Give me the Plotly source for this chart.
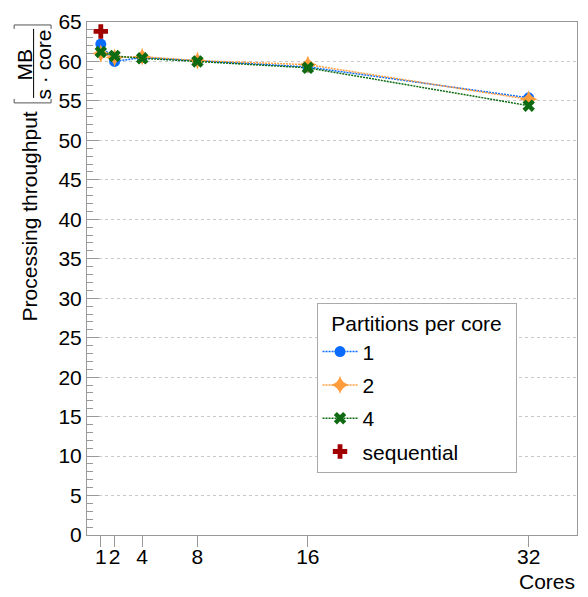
import plotly.graph_objects as go

cores = [1, 2, 4, 8, 16, 32]
tp_1 = [62.2, 60.0, 60.5, 60.1, 59.3, 55.4]
tp_2 = [61.0, 60.5, 60.6, 60.1, 59.6, 55.2]
tp_4 = [61.2, 60.7, 60.4, 60.0, 59.2, 54.4]
seq_cores = [1]
seq_tp = [63.8]
x_ticks = [1, 2, 4, 8, 16, 32]

W, H = 588, 597
L, R, T, B = 87, 578, 15, 535
FONT = "Liberation Sans, Arial, sans-serif"
FS = 21


def px(x):
    return (x - L) / (R - L)


def py(y):
    return (B - y) / (B - T)


fig = go.Figure()
fig.add_trace(go.Scatter(x=cores, y=tp_1, name="1", mode="lines+markers",
                         line=dict(color="#0a6cff", width=1.5, dash="2px,1px"),
                         marker=dict(symbol="circle", size=11, color="#0a6cff"),
                         legendgroup="a"))
fig.add_trace(go.Scatter(x=cores, y=tp_2, name="2", mode="lines+markers",
                         line=dict(color="#ff9d3c", width=1.5, dash="2px,1px"),
                         marker=dict(symbol="star-diamond", size=13, color="#ff9d3c"),
                         legendgroup="b"))
fig.add_trace(go.Scatter(x=cores, y=tp_4, name="4", mode="lines+markers",
                         line=dict(color="#0e6b12", width=1.5, dash="2px,1px"),
                         marker=dict(symbol="x", size=11, color="#0e6b12"),
                         legendgroup="c"))
fig.add_trace(go.Scatter(x=seq_cores, y=seq_tp, name="sequential", mode="markers",
                         marker=dict(symbol="cross", size=12, color="#a00000"),
                         legendgroup="d"))

annotations = [
    dict(text="Processing throughput", x=px(29), y=py(212), xref="paper", yref="paper",
         textangle=-90, showarrow=False, font=dict(size=FS, family=FONT, color="black"),
         xanchor="center", yanchor="middle"),
    dict(text="MB", x=px(24), y=py(58), xref="paper", yref="paper",
         textangle=-90, showarrow=False, font=dict(size=FS, family=FONT, color="black"),
         xanchor="center", yanchor="middle"),
    dict(text="s · core", x=px(43), y=py(58), xref="paper", yref="paper",
         textangle=-90, showarrow=False, font=dict(size=FS, family=FONT, color="black"),
         xanchor="center", yanchor="middle"),
    dict(text="Cores", x=px(578), y=py(582), xref="paper", yref="paper",
         showarrow=False, font=dict(size=FS, family=FONT, color="black"),
         xanchor="right", yanchor="middle"),
]

shapes = [
    dict(type="line", xref="paper", yref="paper", x0=px(33.5), x1=px(33.5),
         y0=py(22), y1=py(92), line=dict(color="black", width=1)),
    dict(type="path", xref="paper", yref="paper",
         path=f"M {px(14)},{py(93)} L {px(14)},{py(97)} L {px(51)},{py(97)} L {px(51)},{py(93)}",
         line=dict(color="#555555", width=1)),
    dict(type="path", xref="paper", yref="paper",
         path=f"M {px(14)},{py(22)} L {px(14)},{py(18)} L {px(51)},{py(18)} L {px(51)},{py(22)}",
         line=dict(color="#555555", width=1)),
]

fig.update_layout(
    width=W, height=H,
    margin=dict(l=L, r=W - R, t=T, b=H - B, pad=0),
    paper_bgcolor="white", plot_bgcolor="white",
    font=dict(family=FONT, size=FS, color="black"),
    annotations=annotations, shapes=shapes,
    showlegend=True,
    legend=dict(
        x=px(317), y=py(300), xanchor="left", yanchor="top",
        bordercolor="#aaaaaa", borderwidth=1, bgcolor="white",
        font=dict(size=FS, family=FONT, color="black"),
        title=dict(text="\u00a0\u00a0Partitions per core\u00a0\u00a0", side="top center",
                   font=dict(size=FS, family=FONT, color="black")),
        itemwidth=35, tracegroupgap=3, traceorder="grouped",
    ),
    xaxis=dict(
        range=[0, 35.5], tickvals=x_ticks, ticktext=[str(v) for v in x_ticks],
        tickangle=0, ticks="outside", ticklen=11, tickcolor="#999999",
        ticklabelstandoff=-8,
        showline=True, linecolor="#999999", linewidth=1, mirror=True,
        showgrid=False, zeroline=False,
        tickfont=dict(size=FS, family=FONT, color="black"),
    ),
    yaxis=dict(
        range=[0, 65], dtick=5, tick0=0, ticks="inside", ticklen=12, tickcolor="#999999",
        showline=True, linecolor="#999999", linewidth=1, mirror=True,
        showgrid=True, gridcolor="#c8c8c8", griddash="dot", gridwidth=1,
        zeroline=False,
        minor=dict(dtick=1, ticks="inside", ticklen=6, tickcolor="#999999", showgrid=False),
        tickfont=dict(size=FS, family=FONT, color="black"),
    ),
)

fig.write_html("out.html")
